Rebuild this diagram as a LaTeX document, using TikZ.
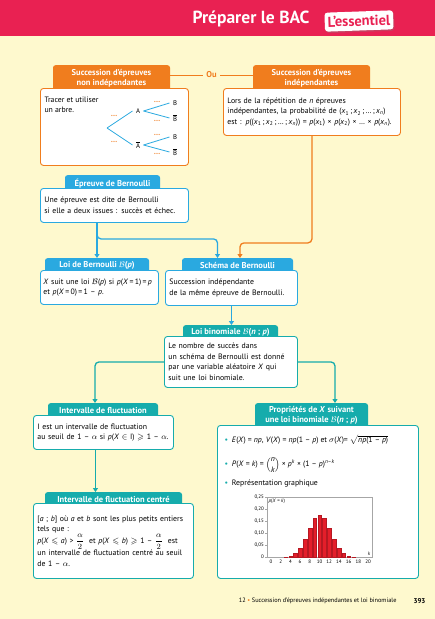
\documentclass[tikz,border=0pt]{standalone}
\usepackage{amsmath,amssymb}
\usepackage{fontspec}
\setmainfont{PT Sans}
\usetikzlibrary{arrows.meta,shadows}
\definecolor{bacred}{RGB}{233,33,82}
\definecolor{bgyellow}{RGB}{254,249,206}
\definecolor{ucorange}{RGB}{240,125,30}
\definecolor{dotorange}{RGB}{242,140,60}
\definecolor{ucblue}{RGB}{42,169,224}
\definecolor{ucteal}{RGB}{22,172,172}
\definecolor{barred}{RGB}{228,30,42}
\newcommand\bodysize{\fontsize{7.8}{10.5}\selectfont}
\newcommand\hdrsize{\fontsize{8.5}{10}\selectfont\bfseries}
\newcommand\chartsize{\fontsize{5}{6}\selectfont}
\newcommand\vi[1]{\textit{#1}}
\newcommand\xs[1]{\textit{x}\textsubscript{#1}}
\tikzset{
  hdr/.style={anchor=north, text=white, font=\hdrsize, align=center,
    rounded corners=2.5pt, inner sep=1pt},
  body/.style={draw, fill=white, anchor=north west, align=left,
    rounded corners=3pt, line width=0.9pt, inner xsep=4pt, inner ysep=3pt,
    font=\bodysize},
  link/.style={line width=1.3pt, -{Triangle[length=4pt,width=5pt]}},
  treeline/.style={ucblue, line width=0.8pt},
  blank/.style={text=dotorange, font=\fontsize{8}{8}\selectfont\bfseries, inner sep=0pt},
}
\begin{document}
\begin{tikzpicture}[x=1pt,y=-1pt]
  \useasboundingbox (0,0) rectangle (435,619);
  \fill[bgyellow] (0,0) rectangle (435,619);
  % title band
  \fill[bacred] (0,0) rectangle (435,36);
  \node[font=\fontsize{17.5}{17.5}\selectfont\bfseries, text=white] (title) at (251,19) {Préparer le BAC};
  \node[fill=white, text=bacred, rounded corners=3pt, rotate=2,
    font=\fontsize{14.5}{14.5}\selectfont\bfseries, inner xsep=3pt, inner ysep=2pt,
    minimum height=19pt,
    drop shadow={opacity=0.3, shadow xshift=1pt, shadow yshift=-1.5pt}] (ess) at (359,21) {L'essentiel};

  % headers
  \node[hdr, fill=ucorange, minimum width=117pt, minimum height=26pt] (h1) at (111.5,65)
    {Succession d'épreuves\\non indépendantes};
  \node[hdr, fill=ucorange, minimum width=117pt, minimum height=26pt] (h2) at (311.5,65)
    {Succession d'épreuves\\indépendantes};
  \node[hdr, fill=ucblue, minimum width=95pt, minimum height=16pt] (h3) at (112.5,175)
    {Épreuve de Bernoulli};
  \node[hdr, fill=ucblue, minimum width=104pt, minimum height=15pt] (h4) at (97,258)
    {Loi de Bernoulli $\mathcal{B}$(\vi{p})};
  \node[hdr, fill=ucblue, minimum width=111pt, minimum height=15pt] (h5) at (237.5,258)
    {Schéma de Bernoulli};
  \node[hdr, fill=ucteal, minimum width=95pt, minimum height=14pt] (h6) at (230.5,325)
    {Loi binomiale $\mathcal{B}$(\vi{n} ; \vi{p})};
  \node[hdr, fill=ucteal, minimum width=110pt, minimum height=15pt] (h7) at (103,403)
    {Intervalle de fluctuation};
  \node[hdr, fill=ucteal, minimum width=137pt, minimum height=14pt] (h8) at (113.5,492)
    {Intervalle de fluctuation centré};
  \node[hdr, fill=ucteal, minimum width=113pt, minimum height=25pt] (h9) at (311.5,403)
    {Propriétés de \vi{X} suivant\\une loi binomiale $\mathcal{B}$(\vi{n} ; \vi{p})};

  % boxes
  \node[body, draw=ucorange, minimum width=148pt, minimum height=77pt] (b1) at (40,88) {};
  \node[body, draw=ucorange, text width=169pt, minimum height=47pt] (b2) at (223,88)
    {Lors de la répétition de \vi{n} épreuves\\
     indépendantes, la probabilité de (\xs1\,;\,\xs2\,;\,…\,;\,\xs{\vi{n}})\\
     est : \vi{p}((\xs1\,;\,\xs2\,;\,…\,;\,\xs{\vi{n}})) = \vi{p}(\xs1) × \vi{p}(\xs2) × … × \vi{p}(\xs{\vi{n}}).};
  \node[body, draw=ucblue, text width=140pt, minimum height=34pt] (b3) at (40,188)
    {Une épreuve est dite de Bernoulli\\si elle a deux issues : succès et échec.};
  \node[body, draw=ucblue, text width=112pt, inner xsep=3pt, minimum height=34pt] (b4) at (40,270)
    {\vi{X} suit une loi $\mathcal{B}$(\vi{p}) si \vi{p}(\vi{X}\,=\,1)\,=\,\vi{p}\\et \vi{p}(\vi{X}\,=\,0)\,=\,1 – \vi{p}.};
  \node[body, draw=ucblue, text width=124pt, minimum height=35pt] (b5) at (165,270)
    {Succession indépendante\\de la même épreuve de Bernoulli.};
  \node[body, draw=ucteal, text width=125pt, minimum height=51pt] (b6) at (164,336)
    {Le nombre de succès dans\\un schéma de Bernoulli est donné\\par une variable aléatoire \vi{X} qui\\suit une loi binomiale.};
  \node[body, draw=ucteal, text width=132pt, minimum height=34pt] (b7) at (33,415)
    {I est un intervalle de fluctuation\\au seuil de 1 – $\alpha$ si \vi{p}(\vi{X} $\in$ I) $\geqslant$ 1 – $\alpha$.};
  \node[body, draw=ucteal, text width=152pt, minimum height=75pt] (b8) at (33,503)
    {[\vi{a} ; \vi{b}] où \vi{a} et \vi{b} sont les plus petits entiers\\tels que :\\
     \vi{p}(\vi{X} $\leqslant$ \vi{a}) > $\dfrac{\alpha}{2}$ \ et \vi{p}(\vi{X} $\leqslant$ \vi{b}) $\geqslant$ 1 – $\dfrac{\alpha}{2}$ \ est\\
     un intervalle de fluctuation centré au seuil\\de 1 – $\alpha$.};
  \node[body, draw=ucteal, minimum width=201pt, minimum height=153pt] (b9) at (217,425) {};

  % "Ou"
  \node[text=ucorange, font=\hdrsize] (ou) at (211.5,75) {Ou};
  \draw[ucorange, line width=1pt] (h1.east |- ou.west) -- (ou.west);
  \draw[ucorange, line width=1pt] (ou.east) -- (h2.west |- ou.east);

  % tree
  \node[anchor=north west, font=\bodysize, align=left] (t1) at ([xshift=1pt,yshift=-5pt]b1.north west)
    {Tracer et utiliser\\un arbre.};
  \draw[font=\fontsize{6.8}{7}\selectfont]
    (107,128) coordinate (r)
    (138,111) node (A) {A}
    (138,145) node (Ab) {$\overline{\mbox{A}}$}
    (175,103) node (B1) {B}
    (175,118) node (B1b) {$\overline{\mbox{B}}$}
    (175,137) node (B2) {B}
    (175,152) node (B2b) {$\overline{\mbox{B}}$};
  \begin{scope}[treeline]
    \draw (r) to (A.west);
    \draw (r) to (Ab.west);
    \draw (A.east) to (B1.west);
    \draw (A.east) to (B1b.west);
    \draw (Ab.east) to (B2.west);
    \draw (Ab.east) to (B2b.west);
  \end{scope}
  \node[blank] (d1) at (114,116) {\ldots};
  \node[blank] (d2) at (114,142) {\ldots};
  \node[blank] (d3) at (157,102) {\ldots};
  \node[blank] (d4) at (157,121) {\ldots};
  \node[blank] (d5) at (157,135) {\ldots};
  \node[blank] (d6) at (157,154) {\ldots};

  % connectors
  \draw[link, ucblue] (b3.south -| h4.north) -- (h4.north);
  \draw[link, ucblue, rounded corners=4pt] (b3.south -| h4.north) -- ++(0,16) -| ([xshift=-20pt]h5.north);
  \draw[link, ucorange, rounded corners=4pt] (b2.south) -- ++(0,107) -| ([xshift=2.5pt]h5.north);
  \draw[link, ucblue] (b5.south) -- (b5.south |- h6.north);
  \draw[link, ucteal, rounded corners=4pt] (b6.west) -| ([xshift=-8pt]h7.north);
  \draw[link, ucteal, rounded corners=4pt] (b6.east) -| ([xshift=23.5pt]h9.north);
  \draw[link, ucteal] ([xshift=-8pt]b7.south) -- ([xshift=-8pt]b7.south |- h8.north);

  % properties
  \node[anchor=west, font=\bodysize] (p1) at (221,440)
    {\textcolor{ucteal}{\textbullet}\enspace \vi{E}(\vi{X}) = \vi{np}, \vi{V}(\vi{X}) = \vi{np}(1 – \vi{p}) et $\sigma$(\vi{X})= $\sqrt{\text{\vi{np}(1 – \vi{p})}}$};
  \node[anchor=west, font=\bodysize] (p2) at (221,465)
    {\textcolor{ucteal}{\textbullet}\enspace \vi{P}(\vi{X} = \vi{k}) = $\dbinom{\text{\vi{n}}}{\text{\vi{k}}}$ × \vi{p}\textsuperscript{\vi{k}} × (1 – \vi{p})\textsuperscript{\vi{n}–\vi{k}}};
  \node[anchor=west, font=\bodysize] (p3) at (221,484)
    {\textcolor{ucteal}{\textbullet}\enspace Représentation graphique};

  % chart
  \draw[gray!70, line width=0.4pt] (267,497) rectangle (372,557);
  \foreach \k/\p in {3/0.0011,4/0.0046,5/0.0148,6/0.0370,7/0.0739,8/0.1201,9/0.1602,10/0.1762,
                     11/0.1602,12/0.1201,13/0.0739,14/0.0370,15/0.0148,16/0.0046,17/0.0011}
    \filldraw[fill=barred, draw=barred!80!black, line width=0.2pt]
      ({271+4.85*\k-1.8},557) rectangle ({271+4.85*\k+1.8},{557-240*\p});
  \foreach \k in {0,2,...,20}
    \node[font=\chartsize, anchor=north, inner sep=1pt] at ({271+4.85*\k},558.5) {\k};
  \foreach \v/\lab in {0/0,0.05/{0,05},0.1/{0,10},0.15/{0,15},0.2/{0,20},0.25/{0,25}}
    \draw[gray!70, line width=0.4pt] (265,{557-240*\v}) -- (267,{557-240*\v})
      node[pos=0, anchor=east, font=\chartsize, text=black, inner sep=1pt] {\lab};
  \node[anchor=north west, font=\chartsize, inner sep=1.5pt] (py) at (267,497) {\vi{p}(\vi{X} = \vi{k})};
  \node[anchor=south east, font=\chartsize, inner sep=1.5pt] (kx) at (372,557) {\vi{k}};

  % footer
  \node[anchor=east, font=\fontsize{6.3}{7}\selectfont] (foot) at (400,601)
    {12 \textcolor{ucorange}{\textbullet} Succession d'épreuves indépendantes et loi binomiale};
  \node[anchor=west, font=\fontsize{7}{8}\selectfont\bfseries] (page) at (410,601) {393};
\end{tikzpicture}
\end{document}
